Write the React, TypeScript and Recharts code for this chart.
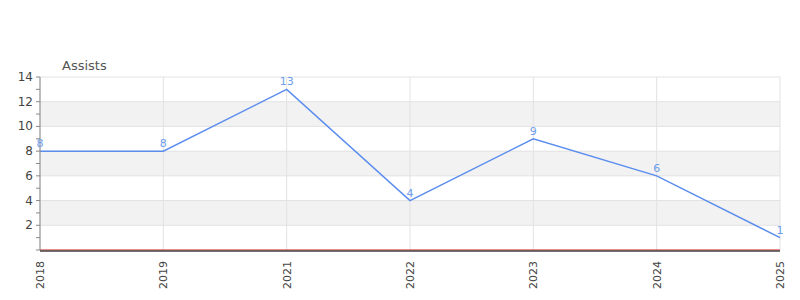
import { LineChart, Line, XAxis, YAxis, CartesianGrid, LabelList, ReferenceLine } from 'recharts';

const seasons = ['2018', '2019', '2021', '2022', '2023', '2024', '2025'];
const assists = [8, 8, 13, 4, 9, 6, 1];
const yTicks = [0, 1, 2, 3, 4, 5, 6, 7, 8, 9, 10, 11, 12, 13, 14];
const gridValues = [2, 4, 6, 8, 10, 12, 14];

const data = seasons.map((season, i) => ({ season, assists: assists[i] }));

const font = '"DejaVu Sans", sans-serif';

function YearTick(props: any) {
  const { x, y, payload } = props;
  return (
    <text
      x={x}
      y={y}
      dy={4}
      transform={`rotate(-90, ${x}, ${y})`}
      textAnchor="end"
      fontSize={11}
      fill="#444"
      fontFamily={font}
    >
      {payload.value}
    </text>
  );
}

function ValueTick(props: any) {
  const { x, y, payload } = props;
  if (payload.value === 0 || payload.value % 2 !== 0) return <g />;
  return (
    <text x={x} y={y} dy={4} textAnchor="end" fontSize={12} fill="#444" fontFamily={font}>
      {payload.value}
    </text>
  );
}

export default function App() {
  return (
    <div style={{ position: 'absolute', left: 0, top: 0, width: 800, height: 300, background: '#fff' }}>
      <div
        style={{
          position: 'absolute',
          left: 62,
          top: 58,
          fontSize: 13,
          color: '#555',
          fontFamily: font,
        }}
      >
        Assists
      </div>
      <LineChart width={800} height={300} data={data} margin={{ top: 77, right: 20, bottom: 0, left: 0 }}>
        <CartesianGrid
          stroke="#e2e2e2"
          horizontalValues={gridValues}
          horizontalFill={['#ffffff', '#f2f2f2']}
          fillOpacity={1}
        />
        <XAxis
          dataKey="season"
          height={50}
          tickLine={false}
          tickMargin={5}
          interval={0}
          axisLine={{ stroke: '#444', strokeWidth: 1.5, transform: 'translate(0,1)' }}
          tick={<YearTick />}
        />
        <YAxis
          width={40}
          domain={[0, 14]}
          ticks={yTicks}
          interval={0}
          tickSize={4}
          tickMargin={3}
          axisLine={{ stroke: '#888' }}
          tickLine={{ stroke: '#888' }}
          tick={<ValueTick />}
        />
        <ReferenceLine y={0} stroke="#d62020" strokeWidth={1} />
        <Line
          type="linear"
          dataKey="assists"
          stroke="#5b8def"
          strokeWidth={1.5}
          dot={false}
          isAnimationActive={false}
        >
          <LabelList dataKey="assists" position="top" offset={4} fontSize={11} fill="#6d9eeb" fontFamily={font} />
        </Line>
      </LineChart>
    </div>
  );
}
